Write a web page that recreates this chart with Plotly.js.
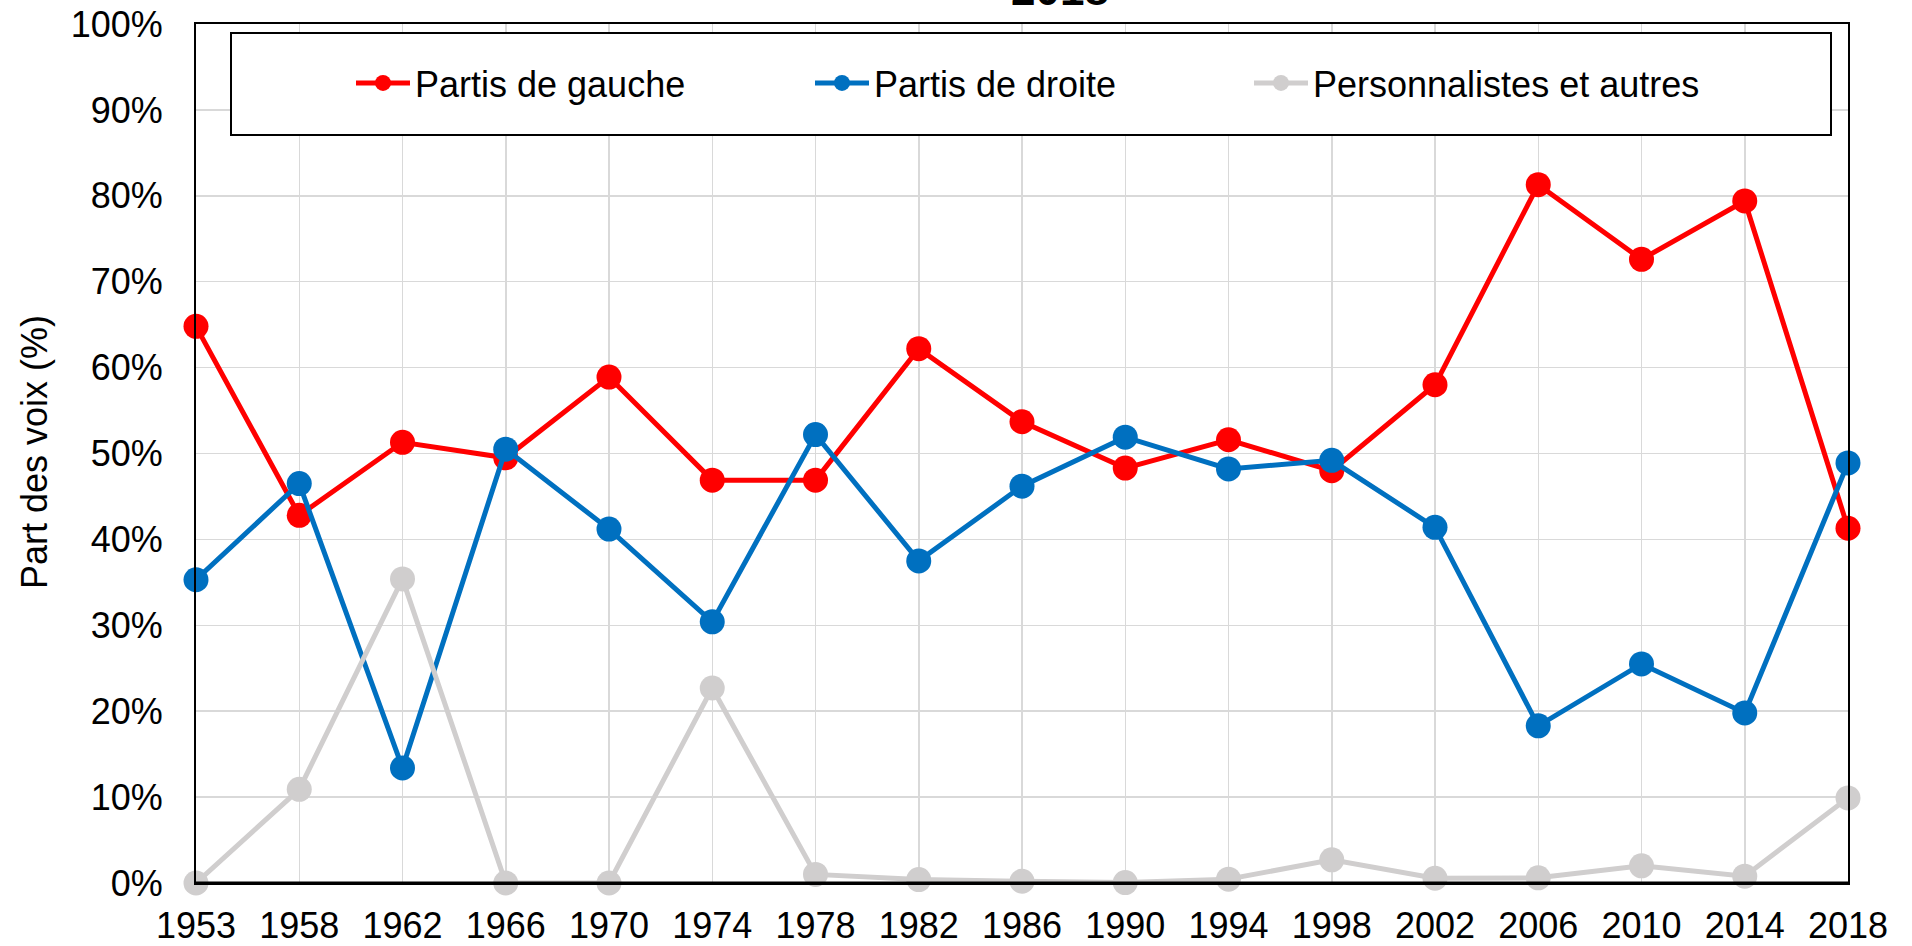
<!DOCTYPE html>
<html>
<head>
<meta charset="utf-8">
<script src="https://cdn.plot.ly/plotly-3.0.1.min.js"></script>
<style>html,body{margin:0;padding:0;background:#fff;}#chart{width:1912px;height:946px;}</style>
</head>
<body>
<div id="chart"></div>
<script>
const years = ["1953","1958","1962","1966","1970","1974","1978","1982","1986","1990","1994","1998","2002","2006","2010","2014","2018"];
const gauche = [64.8, 42.8, 51.3, 49.5, 58.9, 46.9, 46.9, 62.2, 53.7, 48.3, 51.6, 48.0, 58.0, 81.3, 72.6, 79.4, 41.3];
const droite = [35.3, 46.5, 13.4, 50.5, 41.2, 30.4, 52.2, 37.5, 46.2, 51.9, 48.2, 49.2, 41.4, 18.3, 25.5, 19.8, 48.9];
const autres = [0.0, 10.9, 35.4, 0.0, 0.0, 22.7, 1.0, 0.4, 0.2, 0.05, 0.45, 2.7, 0.55, 0.6, 2.0, 0.8, 9.9];
const seriesNames = ["Partis de gauche", "Partis de droite", "Personnalistes et autres"];
const yTicks = [0,10,20,30,40,50,60,70,80,90,100];
const yTickText = yTicks.map(v => v + "%");
const titleText = "2018";
const yTitle = "Part des voix (%)";

const FONT = "Liberation Sans, Arial, sans-serif";
const colors = ["#FF0000", "#0070C0", "#D0CECE"];
const data = [gauche, droite, autres].map((vals, i) => ({
  type: "scatter",
  mode: "lines+markers",
  x: years,
  y: vals,
  name: seriesNames[i],
  legend: i === 0 ? "legend" : (i === 1 ? "legend2" : "legend3"),
  line: {color: colors[i], width: 5},
  marker: {color: colors[i], size: 25},
  cliponaxis: false
}));

// plot area in px: left 196, right 1848, top 24, bottom 883
const L = 196, R = 1848, T = 24, B = 883;
const px2x = p => (p - L) / (R - L);
const py2y = p => (B - p) / (B - T);

const legendCommon = {
  orientation: "h",
  bgcolor: "rgba(0,0,0,0)",
  borderwidth: 0,
  font: {family: FONT, size: 36, color: "#000"},
  itemwidth: 54,
  yanchor: "middle",
  y: py2y(83),
  xanchor: "left"
};

const layout = {
  width: 1912,
  height: 946,
  margin: {l: L, r: 1912 - R, t: T, b: 946 - B, pad: 0},
  paper_bgcolor: "#fff",
  plot_bgcolor: "#fff",
  font: {family: FONT, size: 36, color: "#000"},
  showlegend: true,
  legend: Object.assign({}, legendCommon, {x: px2x(351)}),
  legend2: Object.assign({}, legendCommon, {x: px2x(810)}),
  legend3: Object.assign({}, legendCommon, {x: px2x(1249)}),
  xaxis: {
    type: "category",
    range: [0, years.length - 1],
    showgrid: true,
    gridcolor: "#D9D9D9",
    gridwidth: 1.5,
    showline: true,
    linecolor: "#000",
    linewidth: 2,
    mirror: true,
    ticks: "outside",
    ticklen: 10,
    tickcolor: "rgba(0,0,0,0)",
    tickfont: {family: FONT, size: 36, color: "#000"},
    automargin: false,
    fixedrange: true
  },
  yaxis: {
    range: [0, 100],
    tickvals: yTicks,
    ticktext: yTickText,
    showgrid: true,
    gridcolor: "#D9D9D9",
    gridwidth: 1.5,
    zeroline: false,
    showline: true,
    linecolor: "#000",
    linewidth: 2,
    mirror: true,
    ticks: "outside",
    ticklen: 24,
    tickcolor: "rgba(0,0,0,0)",
    tickfont: {family: FONT, size: 36, color: "#000"},
    automargin: false,
    fixedrange: true
  },
  shapes: [
    {type: "rect", xref: "paper", yref: "paper",
     x0: px2x(231), x1: px2x(1831), y0: py2y(135), y1: py2y(33),
     line: {color: "#000", width: 2}, fillcolor: "#fff", layer: "above"},
    {type: "line", xref: "paper", yref: "paper", x0: 0, x1: 1, y0: 0, y1: 0,
     line: {color: "#000", width: 3}, layer: "above"}
  ],
  annotations: [
    {text: "<b>" + titleText + "</b>", xref: "paper", yref: "paper",
     x: px2x(1060), y: py2y(16), xanchor: "center", yanchor: "bottom",
     showarrow: false, font: {family: FONT, size: 44, color: "#000"}},
    {text: yTitle, xref: "paper", yref: "paper",
     x: px2x(34), y: py2y(452), xanchor: "center", yanchor: "middle",
     textangle: -90, showarrow: false,
     font: {family: FONT, size: 36, color: "#000"}}
  ]
};

Plotly.newPlot("chart", data, layout, {displayModeBar: false, staticPlot: true});
</script>
</body>
</html>
